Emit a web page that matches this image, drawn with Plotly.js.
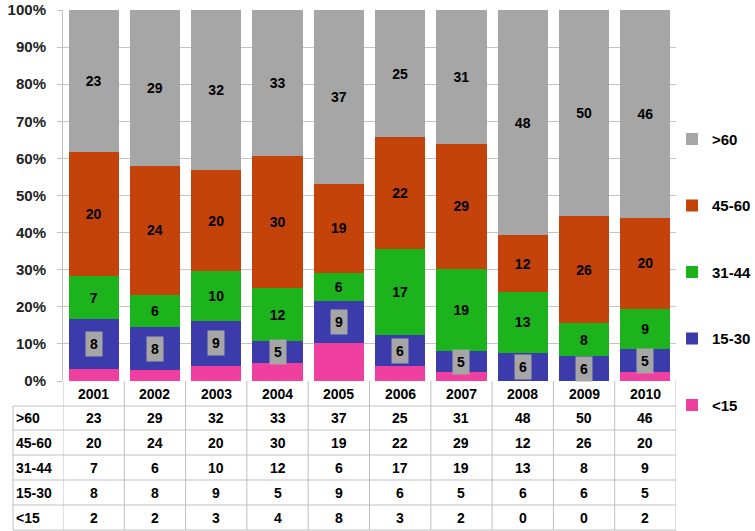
<!DOCTYPE html>
<html>
<head>
<meta charset="utf-8">
<script src="https://cdn.plot.ly/plotly-3.0.1.min.js"></script>
<style>html,body{margin:0;padding:0;background:#fff;}#chart{width:755px;height:531px;}</style>
</head>
<body>
<div id="chart"></div>
<script>
const years = ['2001','2002','2003','2004','2005','2006','2007','2008','2009','2010'];
const seriesNames = ['>60','45-60','31-44','15-30','<15'];
const over60 = [23,29,32,33,37,25,31,48,50,46];
const age45to60 = [20,24,20,30,19,22,29,12,26,20];
const age31to44 = [7,6,10,12,6,17,19,13,8,9];
const age15to30 = [8,8,9,5,9,6,5,6,6,5];
const under15 = [2,2,3,4,8,3,2,0,0,2];

const colors = {'>60':'#a6a6a6','45-60':'#c4430b','31-44':'#1cb31c','15-30':'#3b3bab','<15':'#f0409f'};
const FONT = 'Liberation Sans, Arial, sans-serif';

function barTrace(name, vals, showText, rank){
  return {
    type:'bar', name:name, x:years, y:vals,
    marker:{color:colors[name], line:{width:0}},
    text: showText ? vals.map(String) : undefined,
    texttemplate: showText ? '%{text}' : undefined,
    textposition: showText ? 'inside' : 'none',
    insidetextanchor:'middle', textangle:0, constraintext:'none',
    textfont:{family:FONT, size:14, weight:'bold', color:'#000'},
    legendgroup:name, legendrank:rank, hoverinfo:'skip'
  };
}

const traces = [
  barTrace('<15', under15, false, 5),
  barTrace('15-30', age15to30, false, 4),
  barTrace('31-44', age31to44, true, 3),
  barTrace('45-60', age45to60, true, 2),
  barTrace('>60', over60, true, 1)
];

// gray-boxed labels for the 15-30 segments, positioned from the data
const annotations = years.map((yr,i)=>{
  const total = over60[i]+age45to60[i]+age31to44[i]+age15to30[i]+under15[i];
  return {
    x:i, y:(under15[i]+age15to30[i]/2)/total*100, xref:'x', yref:'y',
    text:String(age15to30[i]), showarrow:false,
    bgcolor:'#a6a6a6', borderpad:4,
    font:{family:FONT, size:14, weight:'bold', color:'#000'}
  };
});

// ---- data table under the plot (layout geometry in pixels -> paper) ----
const H = 531, T = 10, B = 0, PH = H - T - B;
const py = p => (H - B - p) / PH;          // pixel row -> paper y
const rowLines = [406, 430, 455, 480, 505, 530];
const headerMid = 394;
const rowMids = [418, 442.5, 467.5, 492.5, 517.5];
const grid = '#bfbfbf';
const cellFont = {family:FONT, size:14, weight:'bold', color:'#000'};

years.forEach((yr,i)=>{
  annotations.push({x:i, xref:'x', y:py(headerMid), yref:'paper', text:yr, showarrow:false,
    xanchor:'center', yanchor:'middle', font:cellFont});
});
const rowValues = [over60, age45to60, age31to44, age15to30, under15];
seriesNames.forEach((nm, r)=>{
  annotations.push({x:0, xref:'paper', xshift:1, y:py(rowMids[r]), yref:'paper', text:nm.replace('<','&lt;').replace('>','&gt;'),
    showarrow:false, xanchor:'left', yanchor:'middle', font:cellFont});
  years.forEach((yr,i)=>{
    annotations.push({x:i, xref:'x', y:py(rowMids[r]), yref:'paper', text:String(rowValues[r][i]),
      showarrow:false, xanchor:'center', yanchor:'middle', font:cellFont});
  });
});

const shapes = [];
rowLines.forEach(p=>{
  shapes.push({type:'line', xref:'paper', yref:'paper', x0:0, x1:1, y0:py(p), y1:py(p), line:{color:grid, width:1}});
});
// left border of the row-label column
shapes.push({type:'line', xref:'paper', yref:'paper', x0:0, x1:0, y0:py(406), y1:py(530), line:{color:grid, width:1}});
// column borders at category boundaries
for (let k=0; k<=years.length; k++){
  shapes.push({type:'line', xref:'x', yref:'paper', x0:k-0.5, x1:k-0.5, y0:py(381), y1:py(530), line:{color:grid, width:1}});
}

const layout = {
  width:755, height:531,
  margin:{l:13, r:79, t:T, b:B, autoexpand:false},
  paper_bgcolor:'#fff', plot_bgcolor:'#fff',
  barmode:'stack', barnorm:'percent', bargap:0.18,
  showlegend:true,
  legend:{
    x:0.994, xanchor:'left', y:0.7835, yanchor:'top',
    traceorder:'grouped', tracegroupgap:44,
    font:{family:FONT, size:15, weight:'bold', color:'#000'},
    bgcolor:'rgba(0,0,0,0)'
  },
  xaxis:{type:'category', domain:[0.0754,1], range:[-0.5,9.5], showticklabels:false, showgrid:false, zeroline:false, showline:false, ticks:''},
  yaxis:{
    domain:[py(381),1], range:[0,100], dtick:10, ticksuffix:'%',
    showgrid:true, gridcolor:'#c4c4c4', gridwidth:1,
    showline:true, linecolor:'#bfbfbf', linewidth:1,
    ticks:'outside', ticklen:5, tickcolor:'#bfbfbf',
    ticklabelstandoff:8, zeroline:false,
    tickfont:{family:FONT, size:15, weight:'bold', color:'#222'}
  },
  annotations:annotations,
  shapes:shapes
};

Plotly.newPlot('chart', traces, layout, {displayModeBar:false, staticPlot:true});
</script>
</body>
</html>
